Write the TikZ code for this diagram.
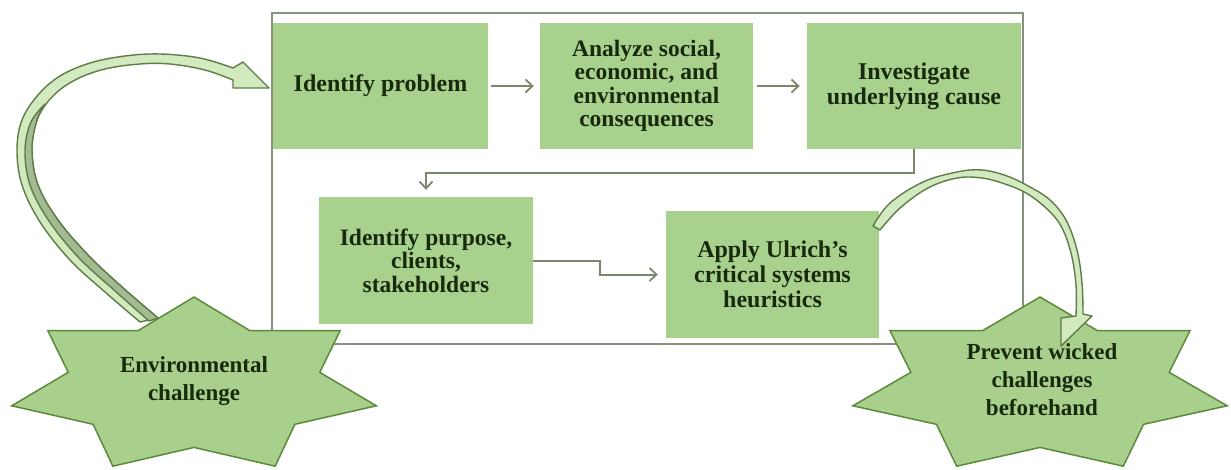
\documentclass[tikz,border=0pt]{standalone}
\usepackage{fontspec}
\setmainfont{Liberation Serif}
\usetikzlibrary{arrows.meta,calc}
\definecolor{boxgreen}{HTML}{A9D18E}
\definecolor{stargreen}{HTML}{A8CF8C}
\definecolor{edgegreen}{HTML}{5C8A3C}
\definecolor{textgreen}{HTML}{172A0E}
\definecolor{linegray}{HTML}{7A876C}
\definecolor{framegray}{HTML}{86927B}
\definecolor{paleband}{HTML}{D3EAC0}
\definecolor{darkband}{HTML}{A3BA93}
\definecolor{arrowedge}{HTML}{5D7D45}
\begin{document}
\begin{tikzpicture}[x=1pt,y=-1pt,
  stepbox/.style={rectangle,fill=boxgreen,draw=none,minimum width=214pt,
    minimum height=127pt,inner sep=0pt,align=center,text=textgreen},
  tightfont/.style={font={\fontsize{23.5}{23.5}\selectfont\bfseries}},
  loosefont/.style={font={\fontsize{24}{25}\selectfont\bfseries}},
  starfont/.style={font={\fontsize{23}{28}\selectfont\bfseries},align=center,text=textgreen,inner sep=0pt},
  conn/.style={draw=linegray,line width=2pt,-{Straight Barb[length=7pt,width=13pt,line width=1.8pt]}},
  starshape/.style={fill=stargreen,draw=edgegreen,line width=1.5pt,line join=miter},
  bandedge/.style={draw=arrowedge,line width=1.4pt,line join=round}]
\useasboundingbox (0,0) rectangle (1231,469);
\fill[white] (0,0) rectangle (1231,469);

% outer frame around the process
\draw[framegray,line width=2.4pt] (272,13) rectangle (1023,344);

% process steps
\node[stepbox,loosefont,minimum width=215pt,minimum height=126pt] (ip) at (380.5,86) {Identify problem};
\node[stepbox,tightfont,minimum width=213pt,minimum height=126pt] (an) at (646.5,86)
  {Analyze social,\\economic, and\\environmental\\consequences};
\node[stepbox,loosefont,minimum height=126pt] (inv) at (914,86) {Investigate\\underlying cause};
\node[stepbox,tightfont] (ipp) at (426,260.5) {Identify purpose,\\clients,\\stakeholders};
\node[stepbox,loosefont,minimum width=213pt] (apply) at (772.5,274.5)
  {Apply Ulrich's\\critical systems\\heuristics};

% connectors between steps
\draw[conn,shorten <=3pt,shorten >=6pt] (ip.east) -- (an.west);
\draw[conn,shorten <=4pt,shorten >=7pt] (an.east) -- (inv.west);
\draw[conn,shorten >=7pt] (inv.south) -- ++(0,24) -| (ipp.north);
\coordinate (mid) at ($(ipp.east)!0.5!(apply.west)$);
\draw[conn,shorten >=8pt] (ipp.east) -| (mid) |- (apply.west);

% curved block arrow from the challenge into the process
\filldraw[bandedge,fill=paleband]
  plot[smooth,tension=0.6] coordinates {(140,322) (105,292) (70,260) (40,222) (22,185) (17,150)
    (22,120) (38,95) (60,76) (90,63) (125,56) (160,54) (200,58) (233,68)}
  -- (243,62) -- (269,88) -- (233,88) -- (233,80)
  -- plot[smooth,tension=0.6] coordinates {(233,80) (205,70) (170,64) (140,64) (105,69) (75,80)
    (52,97) (37,120) (32,150) (38,185) (58,220) (88,255) (122,287) (158,318)}
  -- cycle;
\filldraw[bandedge,fill=darkband]
  plot[smooth,tension=0.6] coordinates {(158,318) (122,287) (88,255) (58,220) (38,185) (32,150) (37,120) (45,104)}
  -- plot[smooth,tension=0.6] coordinates {(45,104) (31,122) (25,150) (30,185) (49,221) (79,258) (114,290) (149,321)}
  -- cycle;

% seven-pointed stars
\draw[starshape] plot[samples at={0,...,13}]
  ({194+187*(1-0.31*mod(\x,2))*cos(90+\x*360/14)},{386-89*(1-0.31*mod(\x,2))*sin(90+\x*360/14)}) -- cycle;
\node[starfont] (env) at (194,381) {Environmental\\challenge};
\draw[starshape] plot[samples at={0,...,13}]
  ({1040+192*(1-0.31*mod(\x,2))*cos(90+\x*360/14)},{386-89*(1-0.31*mod(\x,2))*sin(90+\x*360/14)}) -- cycle;
\node[starfont] (prev) at (1042,380) {Prevent wicked\\challenges\\beforehand};

% curved arrow from the heuristics step to the outcome
\filldraw[bandedge,fill=paleband]
  plot[smooth,tension=0.6] coordinates {(873,226) (890,203) (923,182) (957,172) (982,170) (1007,176)
    (1030,187) (1050,200) (1066,220) (1077,250) (1082,283) (1083,314)}
  -- (1092,316) -- (1061,346) -- (1061,318) -- (1076,316)
  -- plot[smooth,tension=0.6] coordinates {(1076,316) (1076,285) (1071,253) (1061,226) (1046,208)
    (1026,193) (1005,184) (982,178) (957,178) (928,188) (900,208) (880,230)}
  -- cycle;
\end{tikzpicture}
\end{document}
